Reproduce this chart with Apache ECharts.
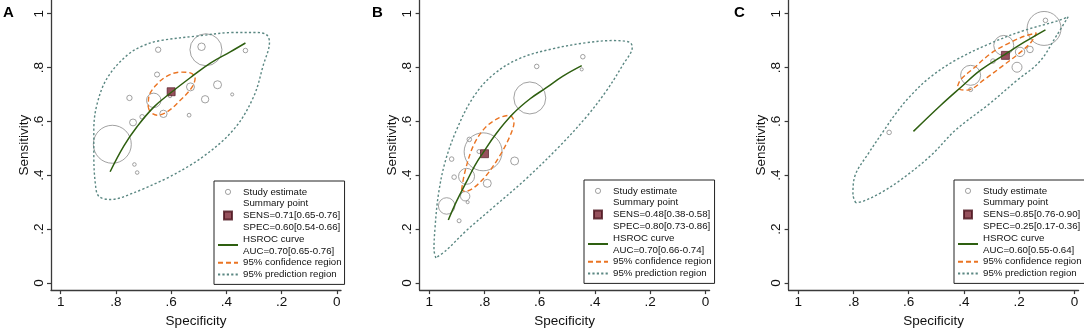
<!DOCTYPE html>
<html>
<head>
<meta charset="utf-8">
<script src="https://cdn.jsdelivr.net/npm/echarts@6.0.0/dist/echarts.min.js"></script>
<style>
  html, body { margin: 0; padding: 0; background: #fff; }
  #main { width: 1084px; height: 333px; }
</style>
</head>
<body>
<div id="main"></div>
<script>
// ---- data (specificity, sensitivity) ----
const tickValues = [0, 0.2, 0.4, 0.6, 0.8, 1];
const panelLetters = ['A', 'B', 'C'];

// study estimates: [specificity, sensitivity, study weight]
const studiesA = [
  [0.813, 0.515, 90], [0.474, 0.866, 64], [0.49, 0.877, 3.5], [0.647, 0.866, 1.8],
  [0.651, 0.774, 1.6], [0.751, 0.687, 1.8], [0.663, 0.678, 13], [0.705, 0.617, 1.3],
  [0.738, 0.596, 3], [0.628, 0.628, 3.4], [0.604, 0.694, 0.7], [0.53, 0.728, 4],
  [0.535, 0.623, 0.9], [0.477, 0.682, 3.4], [0.432, 0.736, 4], [0.379, 0.70, 0.6],
  [0.733, 0.44, 0.8], [0.723, 0.41, 0.8], [0.331, 0.863, 1.3]
];
const studiesB = [
  [0.444, 0.840, 1.3], [0.448, 0.793, 0.6], [0.611, 0.804, 1.3], [0.636, 0.687, 64],
  [0.805, 0.487, 90], [0.82, 0.488, 1], [0.855, 0.533, 1.3], [0.919, 0.46, 1.3],
  [0.910, 0.393, 1.3], [0.865, 0.396, 16], [0.691, 0.453, 4], [0.790, 0.370, 4],
  [0.870, 0.322, 5.5], [0.861, 0.30, 0.6], [0.937, 0.286, 17], [0.892, 0.231, 1]
];
const studiesC = [
  [0.110, 0.945, 72], [0.105, 0.975, 1.3], [0.256, 0.882, 25], [0.197, 0.858, 5.5],
  [0.161, 0.867, 2.7], [0.208, 0.801, 6.2], [0.295, 0.824, 1.3], [0.376, 0.771, 25],
  [0.376, 0.718, 1], [0.671, 0.559, 1.3]
];

const summaryA = [[0.60, 0.71]];
const summaryB = [[0.80, 0.48]];
const summaryC = [[0.25, 0.845]];

const summaryTextA = 'SENS=0.71[0.65-0.76]\nSPEC=0.60[0.54-0.66]';
const summaryTextB = 'SENS=0.48[0.38-0.58]\nSPEC=0.80[0.73-0.86]';
const summaryTextC = 'SENS=0.85[0.76-0.90]\nSPEC=0.25[0.17-0.36]';
const aucTextA = 'AUC=0.70[0.65-0.76]';
const aucTextB = 'AUC=0.70[0.66-0.74]';
const aucTextC = 'AUC=0.60[0.55-0.64]';

// HSROC curves
const hsrocA = [
  [0.821, 0.413], [0.771, 0.509], [0.723, 0.581], [0.663, 0.653], [0.599, 0.708],
  [0.531, 0.762], [0.458, 0.816], [0.386, 0.858], [0.331, 0.891]
];
const hsrocB = [
  [0.931, 0.234], [0.901, 0.304], [0.865, 0.376], [0.835, 0.436], [0.805, 0.484],
  [0.756, 0.557], [0.696, 0.629], [0.636, 0.683], [0.576, 0.725], [0.516, 0.768],
  [0.448, 0.807]
];
const hsrocC = [
  [0.583, 0.563], [0.485, 0.659], [0.413, 0.725], [0.339, 0.791], [0.253, 0.848],
  [0.182, 0.894], [0.105, 0.940]
];

// 95% confidence regions (closed outlines)
const confA = [
  [0.683, 0.653], [0.675, 0.635], [0.651, 0.623], [0.615, 0.635], [0.567, 0.678],
  [0.525, 0.726], [0.513, 0.762], [0.531, 0.780], [0.567, 0.783], [0.615, 0.768],
  [0.657, 0.732], [0.681, 0.690], [0.683, 0.653]
];
const confB = [
  [0.883, 0.346], [0.871, 0.412], [0.841, 0.508], [0.799, 0.575], [0.751, 0.611],
  [0.711, 0.622], [0.693, 0.599], [0.708, 0.545], [0.745, 0.472], [0.793, 0.400],
  [0.841, 0.352], [0.871, 0.340], [0.883, 0.346]
];
const confC = [
  [0.423, 0.731], [0.412, 0.755], [0.364, 0.798], [0.303, 0.852], [0.242, 0.888],
  [0.182, 0.916], [0.138, 0.928], [0.157, 0.894], [0.194, 0.858], [0.255, 0.810],
  [0.327, 0.755], [0.388, 0.716], [0.415, 0.719], [0.423, 0.731]
];

// 95% prediction regions (closed outlines)
const predA = [
  [0.615, 0.389], [0.495, 0.461], [0.374, 0.569], [0.302, 0.690], [0.266, 0.810],
  [0.244, 0.894], [0.254, 0.921], [0.290, 0.930], [0.374, 0.930], [0.495, 0.918],
  [0.639, 0.900], [0.699, 0.882], [0.759, 0.846], [0.831, 0.762], [0.868, 0.665],
  [0.880, 0.569], [0.880, 0.473], [0.874, 0.365], [0.862, 0.322], [0.819, 0.310],
  [0.735, 0.335], [0.615, 0.389]
];
const predB = [
  [0.976, 0.093], [0.983, 0.123], [0.979, 0.207], [0.967, 0.328], [0.943, 0.448],
  [0.901, 0.569], [0.841, 0.689], [0.769, 0.773], [0.672, 0.834], [0.551, 0.870],
  [0.431, 0.892], [0.335, 0.900], [0.275, 0.894], [0.265, 0.876], [0.299, 0.810],
  [0.359, 0.713], [0.431, 0.617], [0.528, 0.508], [0.648, 0.388], [0.769, 0.280],
  [0.865, 0.195], [0.937, 0.123], [0.976, 0.093]
];
const predC = [
  [0.792, 0.298], [0.802, 0.328], [0.794, 0.400], [0.744, 0.484], [0.696, 0.557],
  [0.647, 0.629], [0.599, 0.689], [0.526, 0.761], [0.429, 0.828], [0.308, 0.888],
  [0.187, 0.936], [0.065, 0.972], [0.023, 0.988], [0.065, 0.918], [0.126, 0.822],
  [0.211, 0.750], [0.308, 0.665], [0.429, 0.569], [0.521, 0.472], [0.630, 0.382],
  [0.703, 0.334], [0.764, 0.304], [0.792, 0.298]
];

// ---- chart ----
const chart = echarts.init(document.getElementById('main'), null, { renderer: 'canvas' });
const font = '"Liberation Sans", Arial, Helvetica, sans-serif';
const fmtTick = v => (v === 0 ? '0' : v === 1 ? '1' : v.toFixed(1).replace(/^0/, ''));

const panels = [
  { studies: studiesA, summary: summaryA, hsroc: hsrocA, conf: confA, pred: predA, summaryText: summaryTextA, aucText: aucTextA },
  { studies: studiesB, summary: summaryB, hsroc: hsrocB, conf: confB, pred: predB, summaryText: summaryTextB, aucText: aucTextB },
  { studies: studiesC, summary: summaryC, hsroc: hsrocC, conf: confC, pred: predC, summaryText: summaryTextC, aucText: aucTextC }
];

const gridLeft = [51, 419.6, 788.6];
const letterLeft = [3, 372, 734];
const legendPos = [[214, 181], [584, 180], [954, 180]];

const axisColor = '#3a3a3a';
const studyColor = '#8a8a8a';
const summaryColor = '#7c2535';
const hsrocColor = '#2e5f10';
const confColor = '#ea7423';
const predColor = '#5a8782';

// small icons drawn inside a 20x10 legend slot
const circleIcon = 'path://M0,0M20,10M12.6,5A2.6,2.6,0,1,1,7.4,5A2.6,2.6,0,1,1,12.6,5Z';
const squareIcon = 'path://M0,0M20,10M6,1H14V9H6Z';

const option = {
  animation: false,
  textStyle: { fontFamily: font },
  title: [], grid: [], xAxis: [], yAxis: [], legend: [], series: []
};

panels.forEach((p, i) => {
  const summaryName = 'Summary point\n' + p.summaryText;
  const hsrocName = 'HSROC curve\n' + p.aucText;

  option.title.push({
    text: panelLetters[i], left: letterLeft[i], top: 5, padding: 0,
    textStyle: { fontSize: 15, fontWeight: 'bold', color: '#000', fontFamily: font }
  });
  option.grid.push({ left: gridLeft[i], top: 0, width: 290, height: 298 });

  option.xAxis.push({
    gridIndex: i, type: 'value', inverse: true, min: -0.015, max: 1.035,
    name: 'Specificity', nameLocation: 'middle', nameGap: 20,
    nameTextStyle: { fontSize: 13.5, color: '#111', fontFamily: font },
    axisLine: { show: true, onZero: false, lineStyle: { color: axisColor, width: 1.3 } },
    axisTick: { show: true, length: 4, customValues: tickValues, lineStyle: { color: axisColor, width: 1.2 } },
    axisLabel: { customValues: tickValues, formatter: fmtTick, margin: 5, fontSize: 13.5, color: '#111', fontFamily: font },
    splitLine: { show: false }
  });
  option.yAxis.push({
    gridIndex: i, type: 'value', min: -0.0264, max: 1.0506,
    name: 'Sensitivity', nameLocation: 'middle', nameGap: 13,
    nameTextStyle: { fontSize: 13.5, color: '#111', fontFamily: font },
    axisLine: { show: true, onZero: false, lineStyle: { color: axisColor, width: 1.3 } },
    axisTick: { show: true, length: 4, customValues: tickValues, lineStyle: { color: axisColor, width: 1.2 } },
    axisLabel: { customValues: tickValues, formatter: fmtTick, rotate: 90, margin: 5, fontSize: 13.5, color: '#111', fontFamily: font },
    splitLine: { show: false }
  });

  option.legend.push({
    orient: 'vertical', left: legendPos[i][0], top: legendPos[i][1],
    itemWidth: 20, itemHeight: 10, itemGap: 0,
    padding: [5, 3, 4, 3], borderColor: '#222', borderWidth: 1, borderRadius: 0,
    backgroundColor: '#fff', selectedMode: false,
    textStyle: { fontSize: 9.7, lineHeight: 11.8, color: '#111', fontFamily: font },
    data: [
      { name: 'Study estimate', icon: circleIcon, itemStyle: { color: 'rgba(0,0,0,0)', borderColor: studyColor, borderWidth: 1 } },
      { name: summaryName, icon: squareIcon },
      { name: hsrocName },
      { name: '95% confidence region' },
      { name: '95% prediction region' }
    ]
  });

  const common = { xAxisIndex: i, yAxisIndex: i, emphasis: { disabled: true }, silent: true };
  // line series: hidden symbol style so the legend shows only the stroke
  const hiddenSymbol = c => ({ color: c, opacity: 0 });
  option.series.push(
    Object.assign({
      type: 'scatter', name: 'Study estimate', data: p.studies, symbol: 'circle',
      symbolSize: v => 4 * Math.sqrt(v[2]),
      itemStyle: { color: 'rgba(0,0,0,0)', borderColor: studyColor, borderWidth: 1 }
    }, common),
    Object.assign({
      type: 'line', name: '95% prediction region', data: p.pred, smooth: 0.35, symbol: 'none',
      itemStyle: hiddenSymbol(predColor),
      lineStyle: { color: predColor, width: 1.4, type: [2.2, 2.2] }
    }, common),
    Object.assign({
      type: 'line', name: '95% confidence region', data: p.conf, smooth: 0.35, symbol: 'none',
      itemStyle: hiddenSymbol(confColor),
      lineStyle: { color: confColor, width: 1.4, type: [5, 3] }
    }, common),
    Object.assign({
      type: 'line', name: hsrocName, data: p.hsroc, smooth: 0.4, symbol: 'none',
      itemStyle: hiddenSymbol(hsrocColor),
      lineStyle: { color: hsrocColor, width: 1.5 }
    }, common),
    Object.assign({
      type: 'scatter', name: summaryName, data: p.summary, symbol: 'rect', symbolSize: 8,
      itemStyle: { color: summaryColor, borderColor: '#4a121c', borderWidth: 0.8 }
    }, common)
  );
});

chart.setOption(option);
</script>
</body>
</html>
